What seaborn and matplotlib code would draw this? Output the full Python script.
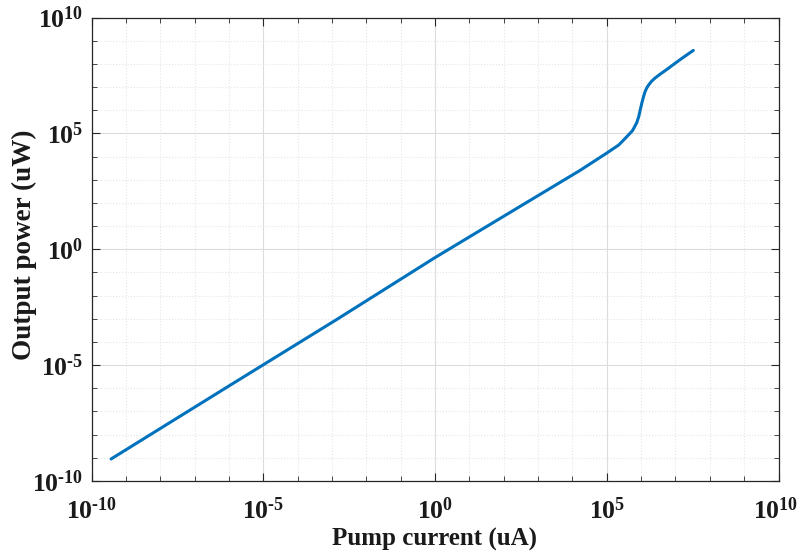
import numpy as np
import pandas as pd
import matplotlib
matplotlib.use("Agg")
import matplotlib.pyplot as plt
import seaborn as sns
from matplotlib.ticker import FixedLocator, NullFormatter
from matplotlib.transforms import ScaledTranslation

# Values (log10 of current in uA, log10 of power in uW)
log_current = [-9.43, -6.0, -2.86, 0.0, 2.77, 4.22, 5.0, 5.35, 5.58, 5.75, 5.87,
               5.93, 5.97, 6.02, 6.07, 6.11, 6.16, 6.21, 6.30, 6.40, 6.55, 6.75,
               6.94, 7.20, 7.52]
log_power = [-9.05, -5.90, -3.03, -0.36, 2.11, 3.40, 4.15, 4.50, 4.85, 5.12, 5.45,
             5.72, 5.98, 6.30, 6.58, 6.78, 6.95, 7.07, 7.24, 7.38, 7.55, 7.76,
             7.97, 8.25, 8.58]

pump_current = [10 ** v for v in log_current]
output_power = [10 ** v for v in log_power]

tick_exponents = [-10, -5, 0, 5, 10]

sns.set_style("white")
plt.rcParams["font.family"] = ["Liberation Serif", "DejaVu Serif"]
plt.rcParams["mathtext.fontset"] = "custom"
plt.rcParams["mathtext.rm"] = "Liberation Serif:bold"
plt.rcParams["mathtext.bf"] = "Liberation Serif:bold"
plt.rcParams["mathtext.it"] = "Liberation Serif:bold:italic"

df = pd.DataFrame({"Pump current (uA)": pump_current,
                   "Output power (uW)": output_power})

fig = plt.figure(figsize=(7.99, 5.52), dpi=100)
ax = fig.add_axes([91.5 / 799, (552 - 481) / 552, (778.5 - 91.5) / 799, (481 - 17.5) / 552])
ax.set_xscale("log")
ax.set_yscale("log")

sns.lineplot(data=df, x="Pump current (uA)", y="Output power (uW)", ax=ax,
             color="#0072BD", linewidth=2.2, sort=False, estimator=None)

ax.set_xlim(1e-10, 1e10)
ax.set_ylim(1e-10, 1e10)


def fmt(e):
    s = str(e).replace("-", "\u2010")
    return r"$\mathbf{10^{%s}}$" % s


major = [10.0 ** e for e in tick_exponents]
minor = [10.0 ** e for e in range(-10, 11) if e not in tick_exponents]
labels = [fmt(e) for e in tick_exponents]
for axis in (ax.xaxis, ax.yaxis):
    axis.set_major_locator(FixedLocator(major))
    axis.set_minor_locator(FixedLocator(minor))
    axis.set_minor_formatter(NullFormatter())
ax.set_xticklabels(labels)
ax.set_yticklabels(labels)

ax.tick_params(which="both", direction="in", top=True, right=True,
               bottom=True, left=True, colors="#262626", labelcolor="#1a1a1a",
               labelsize=18.5)
ax.tick_params(which="major", length=6, width=0.8)
ax.tick_params(axis="x", which="major", pad=12)
ax.tick_params(axis="y", which="major", pad=6)
ax.tick_params(which="minor", length=3.5, width=0.6)

# nudge the right-most x tick label so it stays inside the canvas
last = ax.get_xticklabels()[-1]
last.set_transform(last.get_transform() + ScaledTranslation(-3 / 100, 0, fig.dpi_scale_trans))

ax.grid(which="major", color="#dcdcdc", linestyle="-", linewidth=0.8)
ax.grid(which="minor", color="#e6e6e6", linestyle=":", linewidth=0.8)
ax.set_axisbelow(True)

for s in ax.spines.values():
    s.set_color("#262626")
    s.set_linewidth(0.9)
    s.set_visible(True)

ax.set_xlabel("Pump current (uA)", fontsize=18, fontweight="bold", labelpad=3,
              color="#1a1a1a")
ax.set_ylabel("Output power (uW)", fontsize=19.5, fontweight="bold", labelpad=3,
              color="#1a1a1a")
ax.yaxis.set_label_coords(-0.08, 0.51)

fig.savefig("out.png", dpi=100)
